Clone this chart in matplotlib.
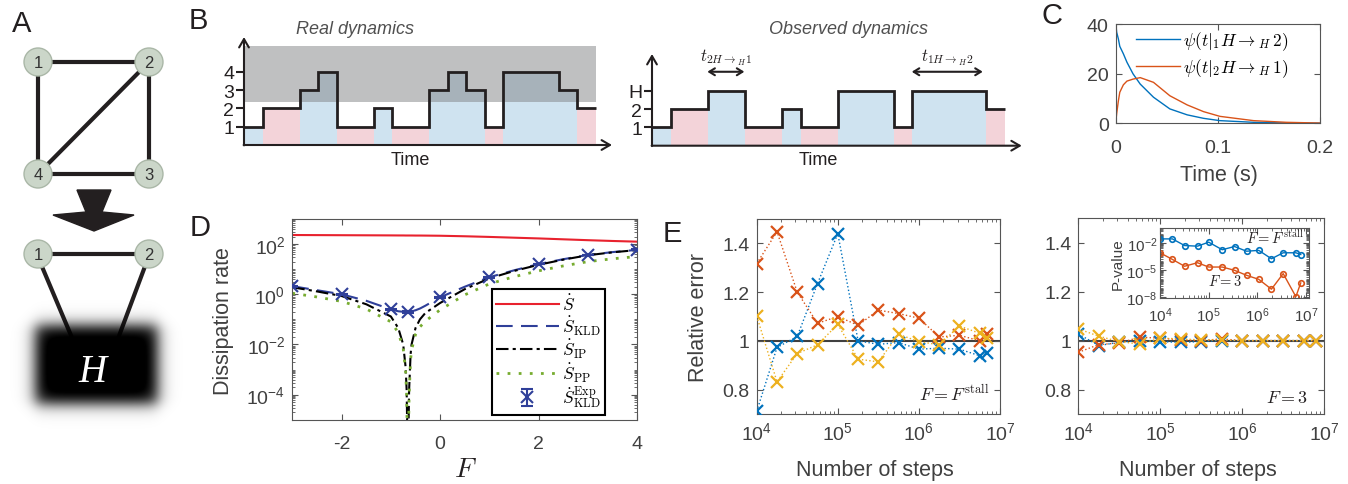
import numpy as np
import matplotlib
matplotlib.use("Agg")
import matplotlib.pyplot as plt
from matplotlib.patches import Circle, Polygon, Rectangle
from matplotlib.ticker import FixedLocator, LogLocator, NullFormatter

plt.rcParams['font.family'] = ['Liberation Sans', 'DejaVu Sans']
plt.rcParams['mathtext.fontset'] = 'cm'
plt.rcParams['axes.unicode_minus'] = False

# ---------------- data ----------------
# A: network edges (full and coarse-grained)
edges_full = [(1, 2), (2, 3), (3, 4), (4, 1), (2, 4)]

# B: trajectories (time in arbitrary units, states; 3 in observed = H)
real_edges = [0, 1, 3, 4, 5, 7, 8, 10, 11, 12, 13, 14, 17, 18, 19]
real_states = [1, 2, 3, 4, 1, 2, 1, 3, 4, 3, 1, 4, 3, 2]
real_blue = [1, 0, 1, 1, 0, 1, 0, 1, 1, 1, 0, 1, 1, 0]
obs_edges = [0, 1, 3, 5, 7, 8, 10, 13, 14, 18, 19]
obs_states = [1, 2, 3, 1, 2, 1, 3, 1, 3, 2]
obs_blue = [1, 0, 1, 0, 1, 0, 1, 0, 1, 0]
real_levels = ['1', '2', '3', '4']
obs_levels = ['1', '2', 'H']

# C: waiting-time distributions
t_c = [0, 0.001, 0.0026, 0.004, 0.0075, 0.011, 0.017, 0.024, 0.037, 0.053,
       0.07, 0.086, 0.102, 0.135, 0.167, 0.2]
psi_12 = [40, 36.6, 34, 31, 28, 24.6, 19.9, 15.8, 10.5, 5.8, 3.4, 2.0, 1.07,
          0.4, 0.15, 0.05]
psi_21 = [0, 4, 9, 12.5, 15.5, 17, 17.8, 18.4, 16.5, 11.1, 7.4, 4.7, 2.8,
          1.07, 0.4, 0.1]

# D: dissipation rates vs force
F_curve = [-3, -2.5, -2, -1.5, -1, -0.85, -0.75, -0.7, -0.68, -0.655, -0.63,
           -0.6, -0.58, -0.5, -0.41, -0.3, 0, 0.5, 1, 1.5, 2, 2.5, 3, 3.5, 4]
S_tot = [230, 228, 226, 224, 222, 221, 221, 220, 220, 220, 220, 220, 220, 219,
         219, 218, 215, 205, 193, 180, 168, 155, 143, 133, 125]
S_kld = [2.1, 1.45, 1.0, 0.55, 0.25, 0.21, 0.2, 0.2, 0.2, 0.2, 0.2, 0.2, 0.21,
         0.23, 0.27, 0.35, 0.76, 2.0, 4.8, 9, 16, 25, 37, 48, 59]
S_ip = [1.9, 1.3, 0.85, 0.4, 0.13, 0.045, 0.01, 0.0012, 1.5e-4, 1e-7, 1.5e-4,
        0.004, 0.01, 0.045, 0.1, 0.18, 0.45, 1.6, 4.3, 8.5, 15, 24, 36, 47, 58]
S_pp = [1.1, 0.78, 0.52, 0.26, 0.08, 0.03, 0.007, 8e-4, 1e-4, 1e-7, 1e-4,
        0.0025, 0.006, 0.025, 0.05, 0.085, 0.24, 0.95, 2.6, 5, 8.6, 13.5, 20,
        26, 32]
F_exp = [-3, -2, -1, -0.66, 0, 1, 2, 3, 4]
S_exp = [2.1, 1.0, 0.25, 0.2, 0.76, 4.8, 16, 37, 59]
S_exp_err = [0.1, 0.05, 0.02, 0.02, 0.04, 0.2, 0.6, 1.2, 2.0]

# E: relative error vs number of steps (three estimates each)
steps = [1e4, 1.78e4, 3.16e4, 5.62e4, 1e5, 1.78e5, 3.16e5, 5.62e5, 1e6,
         1.78e6, 3.16e6, 5.62e6, 7e6]
stall_blue = [0.711, 0.973, 1.018, 1.235, 1.44, 1.0, 0.986, 0.993, 0.966,
              0.97, 0.966, 0.939, 0.95]
stall_red = [1.317, 1.448, 1.2, 1.072, 1.1, 1.064, 1.126, 1.112, 1.093,
             1.016, 1.023, 1.0, 1.027]
stall_yel = [1.102, 0.832, 0.948, 0.984, 1.068, 0.925, 0.914, 1.027, 0.997,
             0.984, 1.061, 1.031, 1.01]
steps_f3 = [1e4, 1.78e4, 3.16e4, 5.62e4, 1e5, 1.78e5, 3.16e5, 5.62e5, 1e6,
            1.78e6, 3.16e6, 5.62e6, 8e6]
f3_blue = [1.027, 0.98, 0.993, 1.0, 0.996, 0.993, 0.996, 1, 1, 1, 1, 1, 1]
f3_red = [0.952, 0.984, 0.99, 1.014, 1.01, 1.003, 1.0, 1.007, 1, 1, 1, 1, 1]
f3_yel = [1.048, 1.018, 0.996, 0.986, 1.01, 1.007, 1.003, 1.003, 1, 1, 1, 1, 1]

# E inset: p-values
p_steps = [1e4, 1.8e4, 3.2e4, 5.9e4, 1.0e5, 1.9e5, 3.4e5, 6.0e5, 1.07e6,
           1.95e6, 3.4e6, 6.2e6, 7.8e6]
p_stall = [3.0e-2, 3.0e-2, 5.5e-3, 4.7e-3, 1.3e-2, 1.9e-3, 4.3e-3, 1.3e-3,
           1.6e-3, 1.9e-4, 8.7e-4, 8.7e-4, 5.6e-4]
p_f3 = [8.7e-4, 1.6e-4, 2.8e-5, 6.9e-5, 2.3e-5, 2.3e-5, 1.0e-5, 2.8e-6,
        1.0e-6, 8.1e-8, 4.3e-6, 1.2e-8, 4.0e-7]

# ---------------- style ----------------
W, H = 1348, 485
C_BLUE = '#0072BD'
C_RED = '#D95319'
C_YEL = '#EDB120'
INK = '#231f20'
TICK = '#404040'
FRAME = '#555555'
FILL_BLUE = '#cfe3f0'
FILL_PINK = '#f3d3d9'

fig = plt.figure(figsize=(W / 100, H / 100), dpi=100)


def px_axes(x0, x1, y0, y1):
    """axes from a pixel box: left, right, top, bottom"""
    return fig.add_axes([x0 / W, 1 - y1 / H, (x1 - x0) / W, (y1 - y0) / H])


def ftext(x, y, s, **kw):
    fig.text(x / W, 1 - y / H, s, **kw)


def matlab_style(ax, fs=13):
    for sp in ax.spines.values():
        sp.set_color(FRAME)
        sp.set_linewidth(0.8)
    ax.tick_params(which='both', direction='in', top=True, right=True,
                   colors=FRAME, labelcolor=TICK, labelsize=fs, pad=5)
    ax.tick_params(which='major', length=4, width=0.8)
    ax.tick_params(which='minor', length=2, width=0.6)


# ---------------- A: network ----------------
axA = fig.add_axes([0, 0, 190 / W, 1])
axA.set_xlim(0, 190)
axA.set_ylim(485, 0)
axA.axis('off')
pos = {1: (38, 63), 2: (149, 63), 3: (149, 175), 4: (38, 175)}
for a, b in edges_full:
    axA.plot([pos[a][0], pos[b][0]], [pos[a][1], pos[b][1]], color=INK,
             lw=3, zorder=1, solid_capstyle='butt')
axA.add_patch(Polygon([(77, 191), (111, 191), (102, 213), (134, 216),
                       (94, 232), (53, 216), (86, 213)], closed=True,
                      color=INK, zorder=1))
pos2 = {1: (38, 255), 2: (149, 255)}
axA.plot([38, 149], [255, 255], color=INK, lw=3, zorder=1)
axA.plot([43, 78], [270, 353], color=INK, lw=3, zorder=1)
axA.plot([144, 113], [270, 353], color=INK, lw=3, zorder=1)

yy, xx = np.mgrid[285:445, 0:190]
alpha = (0.5 * (1 + np.tanh((xx - 35) / 9)) * 0.5 * (1 + np.tanh((157 - xx) / 9))
         * 0.5 * (1 + np.tanh((yy - 326) / 9)) * 0.5 * (1 + np.tanh((404 - yy) / 9)))
rgba = np.zeros(alpha.shape + (4,))
rgba[..., 3] = np.clip(alpha * 1.08, 0, 1)
axA.imshow(rgba, extent=(0, 190, 445, 285), interpolation='bilinear',
           aspect='auto', zorder=2)
axA.set_xlim(0, 190)
axA.set_ylim(485, 0)
axA.text(92, 373, 'H', color='white', fontsize=28, fontstyle='italic',
         family='Liberation Serif', ha='center', va='center', zorder=3)
for k, (x, y) in list(pos.items()) + [(k + 10, v) for k, v in pos2.items()]:
    axA.add_patch(Circle((x, y), 14, facecolor='#cbd6c9', edgecolor='#aab7a7',
                         lw=1, zorder=4))
    axA.text(x, y + 1, str(k % 10), fontsize=12, color='#333333',
             ha='center', va='center', zorder=5)


# ---------------- B: trajectories ----------------
def draw_trace(ax, edges, states, blue, labels, ytop, xtip):
    widths = np.diff(edges)
    cols = [FILL_BLUE if b else FILL_PINK for b in blue]
    ax.bar(edges[:-1], states, width=widths, align='edge', color=cols,
           linewidth=0, zorder=1)
    ax.stairs(states, edges, baseline=None, color=INK, lw=2, zorder=4)
    arr = dict(arrowstyle='->,head_length=0.6,head_width=0.35', lw=1.5,
               color=INK, shrinkA=0, shrinkB=0)
    ax.annotate('', xy=(0, ytop), xytext=(0, -0.02), arrowprops=arr, zorder=5)
    ax.annotate('', xy=(xtip, 0), xytext=(-0.02, 0), arrowprops=arr, zorder=5)
    for sp in ax.spines.values():
        sp.set_color('none')
    ax.spines['left'].set_position(('data', 0))
    ax.spines['bottom'].set_position(('data', 0))
    ax.set_xticks([])
    ax.set_yticks(range(1, len(labels) + 1))
    ax.set_yticklabels(labels)
    ax.tick_params(axis='y', direction='out', length=6, width=1.5,
                   colors=INK, labelsize=14, pad=1)
    ax.patch.set_visible(False)


axB1 = px_axes(230, 615, 18, 170)
axB1.set_xlim((230 - 244) / 18.51, (615 - 244) / 18.51)
axB1.set_ylim((146 - 170) / 18.3, (146 - 18) / 18.3)
draw_trace(axB1, real_edges, real_states, real_blue, real_levels, 5.9, 19.88)
axB1.add_patch(Rectangle((0, 2.35), 19, 3.06, facecolor='#808285',
                         alpha=0.5, lw=0, zorder=3))
axB1.text(6.0, 6.35, 'Real dynamics', fontsize=13, fontstyle='italic',
          color='#505050', ha='center', va='center')
axB1.text(8.97, -0.77, 'Time', fontsize=13, color=INK, ha='center',
          va='center')

axB2 = px_axes(615, 1030, 18, 170)
axB2.set_xlim((615 - 652) / 18.58, (1030 - 652) / 18.58)
axB2.set_ylim((146.7 - 170) / 18.3, (146.7 - 18) / 18.3)
draw_trace(axB2, obs_edges, obs_states, obs_blue, obs_levels, 5.01, 19.9)
axB2.text(10.55, 6.38, 'Observed dynamics', fontsize=13, fontstyle='italic',
          color='#505050', ha='center', va='center')
axB2.text(8.93, -0.77, 'Time', fontsize=13, color=INK, ha='center',
          va='center')
darr = dict(arrowstyle='<->,head_length=0.4,head_width=0.25', lw=1.5,
            color=INK, shrinkA=0, shrinkB=0)
axB2.annotate('', xy=(2.98, 4.04), xytext=(4.97, 4.04), arrowprops=darr)
axB2.annotate('', xy=(13.98, 4.04), xytext=(17.8, 4.04), arrowprops=darr)
axB2.text(3.97, 4.85, r'$t_{2H\rightarrow_H1}$', fontsize=12, color=INK,
          ha='center', va='center')
axB2.text(15.9, 4.85, r'$t_{1H\rightarrow_H2}$', fontsize=12, color=INK,
          ha='center', va='center')

# ---------------- C: waiting times ----------------
axC = px_axes(1115.7, 1320, 25, 124.3)
axC.plot(t_c, psi_12, color=C_BLUE, lw=1,
         label=r'$\psi(t|_1H\rightarrow_H\,2)$')
axC.plot(t_c, psi_21, color=C_RED, lw=1,
         label=r'$\psi(t|_2H\rightarrow_H\,1)$')
axC.set_xlim(0, 0.2)
axC.set_ylim(0, 40)
axC.set_xticks([0, 0.1, 0.2])
axC.set_xticklabels(['0', '0.1', '0.2'])
axC.set_yticks([0, 20, 40])
matlab_style(axC, fs=14)
axC.tick_params(axis='x', pad=11)
axC.legend(loc='upper left', bbox_to_anchor=(0.075, 1.0), frameon=False,
           fontsize=12.5, handlelength=2.5, borderaxespad=0, borderpad=0.3,
           labelspacing=0.25, handletextpad=0.2)
ftext(1219, 175, 'Time (s)', fontsize=15.5, color=TICK, ha='center',
      va='center')

# ---------------- D: dissipation ----------------
axD = px_axes(292.3, 637.3, 220, 420.7)
h_tot, = axD.semilogy(F_curve, S_tot, color='#e8222e', lw=1.5)
h_kld, = axD.semilogy(F_curve, S_kld, color='#2f3f99', lw=1.5,
                      dashes=(8, 4))
h_ip, = axD.semilogy(F_curve, S_ip, color='k', lw=1.5,
                     dashes=(6, 2, 1.5, 2))
h_pp, = axD.semilogy(F_curve, S_pp, color='#77ac30', lw=2,
                     dashes=(1, 3))
h_exp = axD.errorbar(F_exp, S_exp, yerr=S_exp_err, fmt='x', color='#2f3f99',
                     ms=9, mew=1.5, capsize=4, elinewidth=1.5, zorder=5)
axD.set_xlim(-3, 4)
axD.set_ylim(1e-5, 1e3)
axD.set_xticks([-2, 0, 2, 4])
axD.yaxis.set_major_locator(FixedLocator([1e-4, 1e-2, 1, 1e2]))
axD.yaxis.set_minor_locator(LogLocator(base=10, subs=np.arange(1, 10),
                                       numticks=40))
axD.yaxis.set_minor_formatter(NullFormatter())
matlab_style(axD, fs=14)
axD.tick_params(axis='x', pad=11)
legD = axD.legend([h_tot, h_kld, h_ip, h_pp, h_exp],
                  [r'$\dot{S}$', r'$\dot{S}_{\rm KLD}$', r'$\dot{S}_{\rm IP}$',
                   r'$\dot{S}_{\rm PP}$', r'$\dot{S}^{\rm Exp}_{\rm KLD}$'],
                  loc='lower left', bbox_to_anchor=(0.578, 0.025),
                  frameon=True, fancybox=False, edgecolor='k', framealpha=1,
                  fontsize=12.5, handlelength=3.6, labelspacing=0.02,
                  borderpad=0.25, handletextpad=0.2, borderaxespad=0)
legD.get_frame().set_linewidth(1.5)
ftext(223, 321, 'Dissipation rate', fontsize=15.5, color=TICK, rotation=90,
      ha='center', va='center')
ftext(465, 470, r'$F$', fontsize=20, color=INK, ha='center', va='center')


# ---------------- E: relative error ----------------
def err_axes(ax, xs, blue, red, yel):
    ax.axhline(1, color='#404040', lw=1.5, zorder=1)
    for ys, c in ((blue, C_BLUE), (red, C_RED), (yel, C_YEL)):
        ax.semilogx(xs, ys, ':', color=c, lw=1, marker='x', ms=8, mew=1.6,
                    zorder=3)
    ax.set_xscale('log')
    ax.set_xlim(1e4, 1e7)
    ax.set_ylim(0.7, 1.5)
    ax.set_yticks([0.8, 1, 1.2, 1.4])
    ax.set_yticklabels(['0.8', '1', '1.2', '1.4'])
    ax.xaxis.set_major_locator(FixedLocator([1e4, 1e5, 1e6, 1e7]))
    ax.xaxis.set_minor_locator(LogLocator(base=10, subs=np.arange(2, 10),
                                          numticks=20))
    ax.xaxis.set_minor_formatter(NullFormatter())
    matlab_style(ax, fs=14)


axE1 = px_axes(756.7, 1000, 220, 415)
err_axes(axE1, steps, stall_blue, stall_red, stall_yel)
axE1.text(0.955, 0.05, r'$F = F^{\rm stall}$', transform=axE1.transAxes,
          fontsize=13, ha='right', va='bottom', color=INK)
ftext(699, 318, 'Relative error', fontsize=15.5, color=TICK, rotation=90,
      ha='center', va='center')
ftext(875, 471, 'Number of steps', fontsize=15.5, color=TICK, ha='center',
      va='center')

axE2 = px_axes(1078.3, 1324, 219.3, 415)
err_axes(axE2, steps_f3, f3_blue, f3_red, f3_yel)
axE2.text(0.935, 0.043, r'$F = 3$', transform=axE2.transAxes,
          fontsize=13, ha='right', va='bottom', color=INK)
ftext(1198, 471, 'Number of steps', fontsize=15.5, color=TICK, ha='center',
      va='center')

axI = px_axes(1160, 1309.3, 229.3, 299.3)
axI.loglog(p_steps, p_stall, '-o', color=C_BLUE, lw=1, ms=4, mfc='none',
           mew=1.2)
axI.loglog(p_steps, p_f3, '-o', color=C_RED, lw=1, ms=4, mfc='none', mew=1.2)
axI.set_xlim(1e4, 1.17e7)
axI.set_ylim(10 ** -8.1, 10 ** -0.35)
axI.xaxis.set_major_locator(FixedLocator([1e4, 1e5, 1e6, 1e7]))
axI.yaxis.set_major_locator(FixedLocator([1e-8, 1e-5, 1e-2]))
axI.xaxis.set_minor_locator(LogLocator(base=10, subs=np.arange(2, 10),
                                       numticks=20))
axI.yaxis.set_minor_locator(LogLocator(base=10, subs=np.arange(1, 10),
                                       numticks=40))
axI.xaxis.set_minor_formatter(NullFormatter())
axI.yaxis.set_minor_formatter(NullFormatter())
matlab_style(axI, fs=11)
axI.tick_params(axis='y', pad=2)
axI.tick_params(axis='x', pad=5)
axI.set_ylabel('P-value', fontsize=11, color=TICK, labelpad=1)
axI.text(0.965, 0.87, r'$F = F^{\rm stall}$', transform=axI.transAxes,
         fontsize=10.5, ha='right', va='center', color=INK)
axI.text(0.435, 0.25, r'$F = 3$', transform=axI.transAxes,
         fontsize=10.5, ha='center', va='center', color=INK)

# ---------------- panel labels ----------------
for lab, x, y in (('A', 22, 24), ('B', 198, 21), ('C', 1052, 16),
                  ('D', 200, 228), ('E', 672, 234)):
    ftext(x, y, lab, fontsize=21, color=INK, ha='center', va='center')

fig.savefig('out.png', dpi=100)
